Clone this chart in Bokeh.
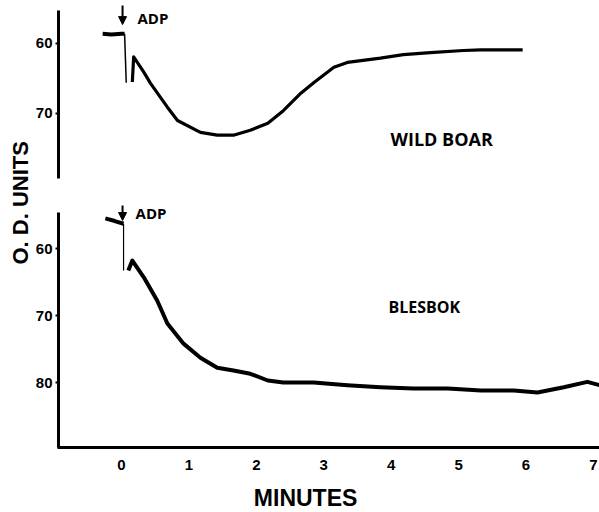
from bokeh.plotting import figure
from bokeh.models import Range1d, LinearAxis, FixedTicker, Title, Arrow, NormalHead, Label
from bokeh.core.properties import value
from bokeh.embed import file_html
from bokeh.resources import INLINE

# ---- data ----
minute_ticks = [0, 1, 2, 3, 4, 5, 6, 7]
od_ticks_top = [60, 70]
od_ticks_bottom = [60, 70, 80]

# Wild boar (upper panel)
boar_base_t = [-0.28, -0.15, 0.0, 0.045]
boar_base_od = [58.6, 58.7, 58.6, 58.6]
boar_drop_t = [0.045, 0.07]
boar_drop_od = [58.6, 65.6]
boar_t = [0.16, 0.18, 0.33, 0.43, 0.68, 0.83, 1.17, 1.42, 1.66, 1.91, 2.17, 2.40,
          2.66, 2.85, 3.15, 3.35, 3.84, 4.18, 4.58, 5.07, 5.33, 5.95]
boar_od = [65.5, 61.9, 64.1, 65.7, 69.1, 71.0, 72.7, 73.1, 73.1, 72.4, 71.4, 69.6,
           67.1, 65.6, 63.4, 62.7, 62.1, 61.6, 61.3, 61.0, 60.9, 60.9]

# Blesbok (lower panel)
bles_base_t = [-0.24, -0.10, 0.03]
bles_base_od = [55.5, 55.9, 56.3]
bles_drop_t = [0.03, 0.03]
bles_drop_od = [56.3, 63.3]
bles_t = [0.10, 0.16, 0.33, 0.53, 0.68, 0.92, 1.17, 1.42, 1.66, 1.91, 2.17, 2.40,
          2.85, 3.35, 3.84, 4.33, 4.84, 5.33, 5.82, 6.17, 6.56, 6.91, 7.09]
bles_od = [63.3, 61.8, 64.3, 67.8, 71.2, 74.2, 76.3, 77.8, 78.2, 78.7, 79.7, 80.0,
           80.0, 80.4, 80.7, 80.9, 80.9, 81.2, 81.2, 81.5, 80.7, 79.9, 80.4]

TICK_FONT = "Liberation Sans"
LABEL_FONT = "Liberation Sans"
NOTE_FONT = "Open Sans"

Y_AXIS_AT = -0.935   # minutes position of the two y axis lines
X_AXIS_AT = 89.70    # O.D. position (lower panel) of the minutes axis line

p = figure(width=599, height=512, x_range=Range1d(-1.306, 7.09),
           y_range=Range1d(99.40, 23.433), y_axis_location=None,
           x_axis_location=None,
           output_backend="svg", toolbar_location=None,
           min_border_left=33, min_border_right=0, min_border_top=3,
           min_border_bottom=0)
p.extra_y_ranges = {"top": Range1d(127.0, 54.286)}
p.grid.visible = False
p.outline_line_color = None
p.background_fill_color = "white"

# minutes axis
xa = LinearAxis(fixed_location=X_AXIS_AT)
xa.ticker = FixedTicker(ticks=minute_ticks)
xa.bounds = (-0.95, 7.09)
xa.axis_line_width = 3
xa.major_tick_out = 0
xa.major_tick_in = 0
xa.minor_tick_out = 0
xa.minor_tick_in = 0
xa.major_label_standoff = 12
xa.major_label_text_font = TICK_FONT
xa.major_label_text_font_style = "bold"
xa.major_label_text_font_size = "15px"
xa.major_label_text_color = "black"
p.add_layout(xa, "below")


def make_y(ticks, bounds, range_name):
    ax = LinearAxis(y_range_name=range_name, fixed_location=Y_AXIS_AT)
    ax.ticker = FixedTicker(ticks=ticks)
    ax.bounds = bounds
    ax.axis_line_width = 3
    ax.major_tick_out = 3
    ax.major_tick_in = 0
    ax.major_tick_line_width = 2
    ax.minor_tick_out = 0
    ax.minor_tick_in = 0
    ax.major_label_standoff = 3
    ax.major_label_text_font = TICK_FONT
    ax.major_label_text_font_style = "bold"
    ax.major_label_text_font_size = "15px"
    ax.major_label_text_color = "black"
    p.add_layout(ax, "left")
    return ax


make_y(od_ticks_bottom, (54.63, 89.70), "default")
make_y(od_ticks_top, (55.29, 79.29), "top")

# axis titles
p.add_layout(Title(text="O. D. UNITS", align="left", offset=248, standoff=2,
                   text_font=LABEL_FONT, text_font_style="bold",
                   text_font_size="22px", text_color="black"), "left")
p.add_layout(Label(x=2.73, y=97.3, text="MINUTES", text_align="center",
                   text_baseline="middle", text_font=LABEL_FONT,
                   text_font_style="bold", text_font_size="23px",
                   text_color="black"))

# traces: wild boar
p.line(boar_base_t, boar_base_od, y_range_name="top", line_color="black", line_width=4)
p.line(boar_drop_t, boar_drop_od, y_range_name="top", line_color="black", line_width=1.5)
p.line(boar_t, boar_od, y_range_name="top", line_color="black", line_width=3.2,
       line_join="round")

# traces: blesbok
p.line(bles_base_t, bles_base_od, line_color="black", line_width=4)
p.line(bles_drop_t, bles_drop_od, line_color="black", line_width=1.2)
p.line(bles_t, bles_od, line_color="black", line_width=4, line_join="round")

# ADP markers
p.add_layout(Arrow(x_start=0.015, y_start=54.57, x_end=0.015, y_end=57.3,
                   y_range_name="top", line_width=2,
                   end=NormalHead(size=8, fill_color="black", line_color="black")))
p.add_layout(Arrow(x_start=0.015, y_start=53.58, x_end=0.015, y_end=55.82,
                   line_width=2,
                   end=NormalHead(size=8, fill_color="black", line_color="black")))
p.text(x=[0.237], y=[56.36], text=["ADP"], y_range_name="top",
       text_font=value(NOTE_FONT), text_font_style="bold", text_font_size="15px",
       text_baseline="middle", text_align="left", text_color="black")
p.text(x=[0.208], y=[54.63], text=["ADP"],
       text_font=value(NOTE_FONT), text_font_style="bold", text_font_size="15px",
       text_baseline="middle", text_align="left", text_color="black")

# panel labels
p.text(x=[3.99], y=[73.64], text=["WILD BOAR"], y_range_name="top",
       text_font=value(NOTE_FONT), text_font_style="bold", text_font_size="18px",
       text_baseline="middle", text_align="left", text_color="black")
p.text(x=[3.96], y=[68.73], text=["BLESBOK"],
       text_font=value(NOTE_FONT), text_font_style="bold", text_font_size="16px",
       text_baseline="middle", text_align="left", text_color="black")

open("out.html", "w").write(file_html(p, INLINE))
